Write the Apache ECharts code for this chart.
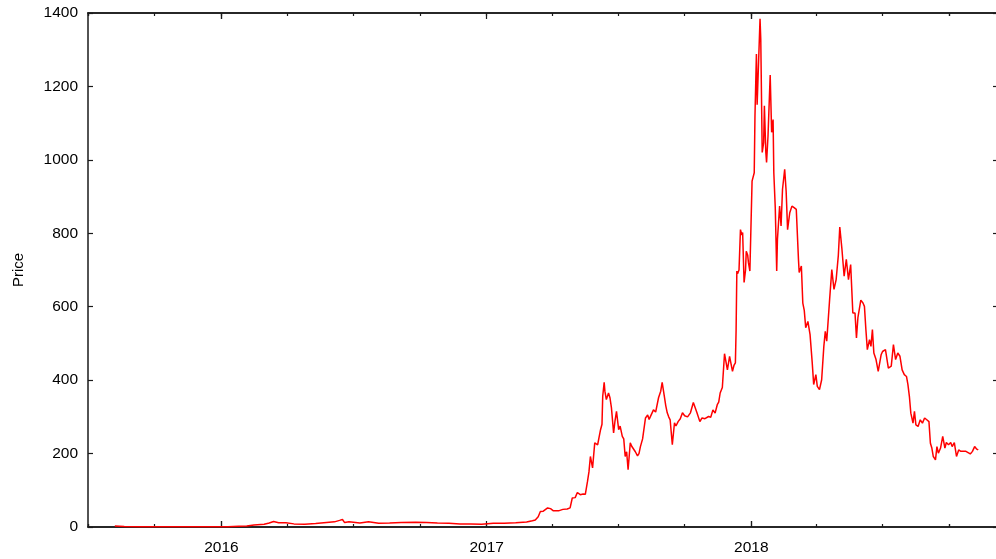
<!DOCTYPE html>
<html>
<head>
<meta charset="utf-8">
<script src="https://cdn.jsdelivr.net/npm/echarts@6/dist/echarts.min.js"></script>
<style>
  html, body { margin: 0; padding: 0; background: #fff; overflow: hidden; }
  #chart { width: 996px; height: 559px; }
</style>
</head>
<body>
<div id="chart"></div>
<script>
// Daily closing price samples (USD)
const dates = [
  '2015-08-07','2015-08-20','2015-09-10','2015-10-01','2015-10-20','2015-11-10','2015-12-01','2015-12-20',
  '2016-01-10','2016-01-25','2016-02-05','2016-02-15','2016-02-29','2016-03-07','2016-03-13','2016-03-20',
  '2016-03-30','2016-04-10','2016-04-25','2016-05-10','2016-05-25','2016-06-05','2016-06-12','2016-06-16',
  '2016-06-19','2016-06-25','2016-07-10','2016-07-22','2016-08-05','2016-08-20','2016-09-05','2016-09-25',
  '2016-10-10','2016-10-25','2016-11-10','2016-11-25','2016-12-10','2016-12-25',
  '2017-01-10','2017-01-25','2017-02-10','2017-02-25','2017-03-05','2017-03-09','2017-03-13','2017-03-16',
  '2017-03-20','2017-03-26','2017-03-30','2017-04-03','2017-04-10','2017-04-16','2017-04-22','2017-04-26',
  '2017-04-29','2017-05-03','2017-05-06','2017-05-10','2017-05-14','2017-05-17','2017-05-20','2017-05-22',
  '2017-05-24','2017-05-27','2017-05-30','2017-06-03','2017-06-05','2017-06-07','2017-06-09','2017-06-10',
  '2017-06-12','2017-06-13','2017-06-15','2017-06-18','2017-06-20','2017-06-22','2017-06-25','2017-06-27',
  '2017-06-29','2017-07-02','2017-07-04','2017-07-07','2017-07-09','2017-07-11','2017-07-13','2017-07-15',
  '2017-07-18','2017-07-20','2017-07-22','2017-07-25','2017-07-28','2017-07-30','2017-08-01','2017-08-04',
  '2017-08-08','2017-08-11','2017-08-13','2017-08-15','2017-08-19','2017-08-22','2017-08-26','2017-08-29',
  '2017-08-31','2017-09-03','2017-09-05','2017-09-07','2017-09-09','2017-09-11','2017-09-14','2017-09-17',
  '2017-09-19','2017-09-22','2017-09-25','2017-09-28','2017-10-01','2017-10-05','2017-10-09','2017-10-13',
  '2017-10-15','2017-10-18','2017-10-22','2017-10-25','2017-10-29','2017-11-03','2017-11-06','2017-11-08',
  '2017-11-09','2017-11-12','2017-11-15','2017-11-17','2017-11-19','2017-11-22','2017-11-25','2017-11-27',
  '2017-11-29','2017-12-02','2017-12-04','2017-12-06','2017-12-08','2017-12-10','2017-12-11','2017-12-12',
  '2017-12-13','2017-12-15','2017-12-17','2017-12-19','2017-12-20','2017-12-22','2017-12-24','2017-12-25',
  '2017-12-27','2017-12-28','2017-12-30',
  '2018-01-02','2018-01-05','2018-01-06','2018-01-08','2018-01-09','2018-01-11','2018-01-13','2018-01-14',
  '2018-01-16','2018-01-18','2018-01-19','2018-01-21','2018-01-22','2018-01-24','2018-01-27','2018-01-29',
  '2018-01-31','2018-02-01','2018-02-03','2018-02-05','2018-02-06','2018-02-09','2018-02-11','2018-02-13',
  '2018-02-16','2018-02-18','2018-02-20','2018-02-23','2018-02-26','2018-03-01','2018-03-04','2018-03-07',
  '2018-03-08','2018-03-11','2018-03-13','2018-03-15','2018-03-17','2018-03-20','2018-03-23','2018-03-26',
  '2018-03-28','2018-03-31','2018-04-02','2018-04-05','2018-04-08','2018-04-11','2018-04-13','2018-04-15',
  '2018-04-19','2018-04-22','2018-04-25','2018-04-28','2018-05-01','2018-05-03','2018-05-06','2018-05-09',
  '2018-05-12','2018-05-15','2018-05-18','2018-05-21','2018-05-24','2018-05-26','2018-05-28','2018-06-01',
  '2018-06-04','2018-06-06','2018-06-08','2018-06-10','2018-06-13','2018-06-15','2018-06-17','2018-06-19',
  '2018-06-22','2018-06-25','2018-06-29','2018-07-01','2018-07-05','2018-07-07','2018-07-09','2018-07-13',
  '2018-07-16','2018-07-19','2018-07-22','2018-07-25','2018-07-28','2018-07-31','2018-08-03','2018-08-05',
  '2018-08-07','2018-08-09','2018-08-12','2018-08-14','2018-08-16','2018-08-19','2018-08-22','2018-08-25',
  '2018-08-28','2018-08-31','2018-09-03','2018-09-05','2018-09-07','2018-09-09','2018-09-12','2018-09-14',
  '2018-09-16','2018-09-19','2018-09-22','2018-09-25','2018-09-27','2018-09-30','2018-10-03','2018-10-05',
  '2018-10-08','2018-10-11','2018-10-14','2018-10-17','2018-10-24','2018-10-30','2018-11-02','2018-11-05',
  '2018-11-08','2018-11-10'
];

const prices = [
  2.8, 1.4, 0.9, 0.7, 0.5, 0.95, 0.87, 0.85,
  1.0, 2.1, 2.6, 5.2, 7.5, 11, 15, 11.5,
  11.3, 8.5, 7.5, 9.5, 12.5, 14, 18, 20.5,
  12, 14, 11, 14, 10.5, 11, 12, 13,
  12, 11, 10.5, 8.5, 8, 7.3,
  10, 10.5, 11.5, 13.5, 17, 19, 28, 42,
  43, 52, 50, 44, 44, 48, 49, 52,
  79, 80, 94, 88, 90, 89, 124, 150,
  192, 161, 229, 224, 245, 265, 280, 356,
  394, 370, 347, 365, 352, 325, 256, 290,
  315, 265, 275, 247, 240, 192, 205, 156,
  229, 220, 224, 205, 194, 200, 219, 240,
  297, 305, 293, 297, 319, 313, 352, 370,
  394, 356, 330, 311, 300, 292, 224, 284,
  275, 287, 295, 311, 303, 300, 311, 339,
  336, 311, 287, 297, 295, 301, 299, 297,
  319, 310, 333, 340, 365, 380, 472, 470,
  428, 465, 470, 424, 440, 447, 538, 697,
  690, 700, 810, 795, 802, 666, 700, 751,
  740, 720, 697,
  942, 965, 1119, 1288, 1150, 1147, 1384, 1329,
  1020, 1047, 1147, 1020, 993, 1065, 1231, 1075,
  1110, 965, 870, 697, 783, 874, 820, 920,
  974, 915, 810, 856, 874, 870, 865, 729,
  693, 711, 610, 590, 543, 560, 524, 447,
  388, 415, 383, 374, 401, 492, 533, 506,
  620, 701, 647, 674, 740, 817, 756, 683,
  729, 674, 715, 583, 583, 515, 570, 618,
  610, 601, 538, 483, 510, 492, 538, 474,
  456, 424, 469, 478, 483, 488, 433, 438,
  497, 456, 474, 465, 428, 415, 410, 388,
  356, 310, 283, 315, 278, 274, 292, 283,
  297, 292, 287, 228, 215, 192, 183, 219,
  201, 215, 247, 215, 230, 224, 230, 219,
  230, 192, 210, 206, 206, 199, 206, 219,
  212, 210
];

// Axis tick positions
const yearTicks = ['2016-01-01', '2017-01-01', '2018-01-01'];
const quarterTicks = [
  '2015-07-01','2015-10-01','2016-01-01','2016-04-01','2016-07-01','2016-10-01',
  '2017-01-01','2017-04-01','2017-07-01','2017-10-01','2018-01-01','2018-04-01',
  '2018-07-01','2018-10-01'
];
const xMin = '2015-07-01';
const xMax = '2018-12-10';

const parse = (s) => echarts.time.parse(s).getTime();
const yearVals = yearTicks.map(parse);
const quarterVals = quarterTicks.map(parse);
const series = dates.map((d, i) => [parse(d), prices[i]]);

const FONT = '"Liberation Sans", Arial, Helvetica, sans-serif';
const AXIS_COLOR = '#1a1a1a';
const LABEL_SIZE = 15.5;

function xAxisDef(position, tickVals, tickLen, withLabels) {
  return {
    type: 'time',
    position: position,
    min: parse(xMin),
    max: parse(xMax),
    axisLine: { show: true, onZero: false, lineStyle: { color: AXIS_COLOR, width: 1.5 } },
    axisTick: {
      show: true, inside: true, length: tickLen,
      customValues: tickVals,
      lineStyle: { color: AXIS_COLOR, width: 1.2 }
    },
    axisLabel: withLabels ? {
      show: true,
      customValues: yearVals,
      formatter: '{yyyy}',
      color: '#000',
      fontFamily: FONT,
      fontSize: LABEL_SIZE,
      margin: 13
    } : { show: false },
    splitLine: { show: false },
    minorTick: { show: false }
  };
}

const chart = echarts.init(document.getElementById('chart'), null, { renderer: 'canvas' });

chart.setOption({
  animation: false,
  backgroundColor: '#fff',
  grid: {
    left: 88, top: 13, width: 912, bottom: 32,
    containLabel: false,
    outerBoundsMode: 'none'
  },
  xAxis: [
    xAxisDef('bottom', quarterVals, 3, true),
    xAxisDef('bottom', yearVals, 6, false),
    xAxisDef('top', quarterVals, 3, false),
    xAxisDef('top', yearVals, 6, false)
  ],
  yAxis: [
    {
      type: 'value',
      position: 'left',
      min: 0, max: 1400, interval: 200,
      name: 'Price',
      nameLocation: 'middle',
      nameRotate: 90,
      nameGap: 62,
      nameTextStyle: { color: '#000', fontFamily: FONT, fontSize: 15 },
      axisLine: { show: true, onZero: false, lineStyle: { color: AXIS_COLOR, width: 1.5 } },
      axisTick: { show: true, inside: true, length: 5, lineStyle: { color: AXIS_COLOR, width: 1.2 } },
      axisLabel: {
        color: '#000', fontFamily: FONT, fontSize: LABEL_SIZE, margin: 10,
        formatter: (v) => String(v)
      },
      splitLine: { show: false }
    },
    {
      type: 'value',
      position: 'right',
      min: 0, max: 1400, interval: 200,
      axisLine: { show: true, onZero: false, lineStyle: { color: AXIS_COLOR, width: 1.5 } },
      axisTick: { show: true, inside: true, length: 7, lineStyle: { color: AXIS_COLOR, width: 1.2 } },
      axisLabel: { show: false },
      splitLine: { show: false }
    }
  ],
  series: [{
    type: 'line',
    xAxisIndex: 0,
    yAxisIndex: 0,
    data: series,
    showSymbol: false,
    smooth: false,
    lineStyle: { color: '#ff0000', width: 1.5 },
    itemStyle: { color: '#ff0000' }
  }]
});
</script>
</body>
</html>
